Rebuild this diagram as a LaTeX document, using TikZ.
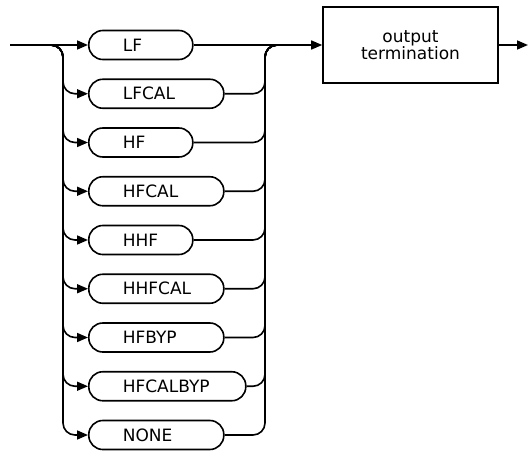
\documentclass[tikz,border=0pt]{standalone}
\usepackage{fontspec}
\setmainfont{DejaVu Sans}
\usetikzlibrary{arrows.meta}

\tikzset{
  opt/.style={draw, line width=1.6pt, rounded corners=14pt, minimum height=29pt,
    inner xsep=34pt, inner ysep=0pt, align=left, anchor=west,
    font=\fontsize{17}{17}\selectfont},
  flow/.style={line width=1.6pt, -{Triangle[length=11pt,width=9pt]}},
  merge/.style={line width=1.6pt, rounded corners=12pt},
}

\begin{document}
\begin{tikzpicture}[x=1pt,y=-1pt]
\useasboundingbox (0,0) rectangle (528,455);

% the options, all starting at x=88
\foreach \name/\txt/\w/\i in {lf/LF/104/0, lfcal/LFCAL/135/1, hf/HF/104/2,
    hfcal/HFCAL/135/3, hhf/HHF/104/4, hhfcal/HHFCAL/135/5, hfbyp/HFBYP/135/6,
    hfcalbyp/HFCALBYP/157/7, none/NONE/135/8}{
  \pgfmathsetmacro{\tw}{\w-68}
  \node[opt, text width=\tw pt] (\name) at (88,45+48.75*\i) {\txt};
}

\node[draw, line width=1.6pt, minimum width=175pt, minimum height=76pt, align=center,
  font=\fontsize{17}{14.5}\selectfont] (term) at (410.5,45) {output\\termination};

\coordinate (in) at (10,45);
\coordinate (lv) at (63,45);
\coordinate (rv) at (265,45);
\coordinate (out) at (528,45);

% main line
\draw[flow] (in) -- (lf.west);
\draw[flow] (lf.east) -- (term.west);
\draw[flow] (term.east) -- (out);

% branches in and out
\foreach \name in {lfcal,hf,hfcal,hhf,hhfcal,hfbyp,hfcalbyp,none}{
  \draw[flow, merge] (in) -- (lv) -- (lv |- \name.west) -- (\name.west);
  \draw[merge] (\name.east) -- (rv |- \name.east) -- (rv) -- ++(14,0);
}
\end{tikzpicture}
\end{document}
